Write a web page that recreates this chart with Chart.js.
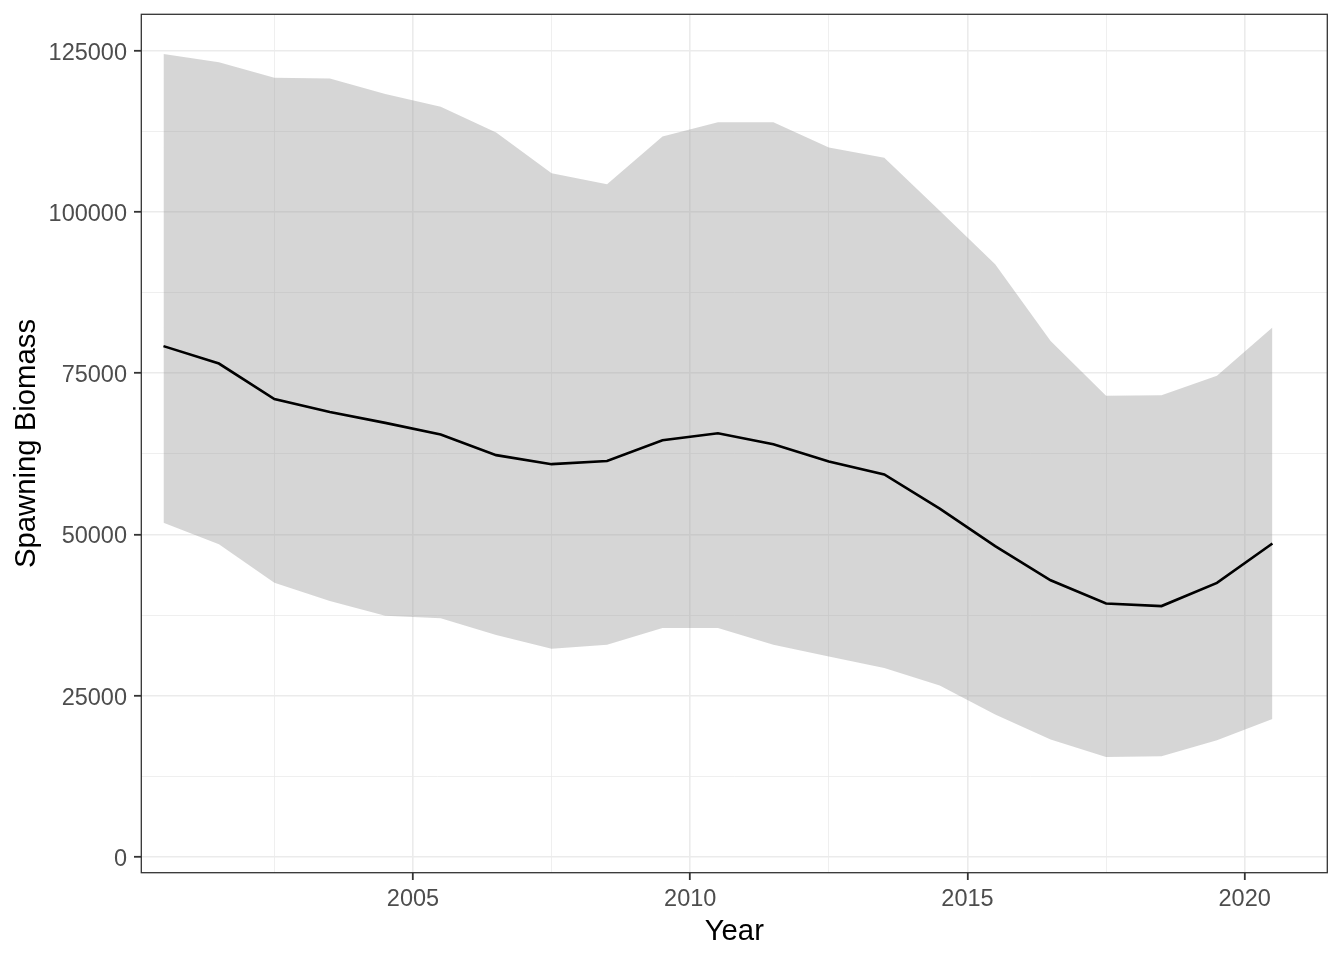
<!DOCTYPE html>
<html>
<head>
<meta charset="utf-8">
<script src="https://cdn.jsdelivr.net/npm/chart.js@4"></script>
<style>
  html, body { margin: 0; padding: 0; background: #fff; }
  #wrap { width: 1344px; height: 960px; }
</style>
</head>
<body>
<div id="wrap"><canvas id="biomassChart" width="1344" height="960"></canvas></div>
<script>
// Data
const years = [2000.5, 2001.5, 2002.5, 2003.5, 2004.5, 2005.5, 2006.5, 2007.5, 2008.5, 2009.5, 2010.5,
               2011.5, 2012.5, 2013.5, 2014.5, 2015.5, 2016.5, 2017.5, 2018.5, 2019.5, 2020.5];
const biomass = [79200, 76500, 71000, 69000, 67300, 65500, 62300, 60900, 61400, 64600, 65700,
                 64000, 61300, 59300, 54000, 48200, 42900, 39300, 38900, 42500, 48600];
const lowerCI = [51800, 48500, 42500, 39700, 37400, 37000, 34400, 32300, 32900, 35500, 35500,
                 32900, 31100, 29300, 26600, 22100, 18200, 15500, 15600, 18100, 21400];
const upperCI = [124500, 123200, 120800, 120700, 118300, 116300, 112300, 106000, 104300, 111700, 113900,
                 113900, 110000, 108400, 100200, 91900, 80000, 71500, 71600, 74600, 82100];

// Axis ticks (major ones get labels, the .5 / 12500 steps are minor grid lines)
const xTicks = [2002.5, 2005, 2007.5, 2010, 2012.5, 2015, 2017.5, 2020];
const yTicks = [0, 12500, 25000, 37500, 50000, 62500, 75000, 87500, 100000, 112500, 125000];

const pts = arr => arr.map((v, i) => ({ x: years[i], y: v }));
const isMajorX = v => v % 5 === 0;
const isMajorY = v => v % 25000 === 0;

const tickFont = { family: "'Liberation Sans', Arial, sans-serif", size: 23.5, lineHeight: 1 };
const titleFont = { family: "'Liberation Sans', Arial, sans-serif", size: 29.3, lineHeight: 1.2 };

// ggplot style panel border on all four sides
const panelBorder = {
  id: "panelBorder",
  afterDatasetsDraw(chart) {
    const { ctx, chartArea: a } = chart;
    ctx.save();
    ctx.strokeStyle = "#333333";
    ctx.lineWidth = 1.3;
    ctx.strokeRect(a.left, a.top, a.right - a.left, a.bottom - a.top);
    ctx.restore();
  }
};

const ctx = document.getElementById("biomassChart").getContext("2d");
new Chart(ctx, {
  type: "line",
  data: {
    datasets: [
      { label: "Spawning Biomass", data: pts(biomass), borderColor: "#000000", borderWidth: 2.6,
        pointRadius: 0, fill: false, tension: 0 },
      { label: "upper", data: pts(upperCI), borderColor: "rgba(0,0,0,0)", borderWidth: 0,
        pointRadius: 0, fill: "+1", backgroundColor: "rgba(153,153,153,0.4)", tension: 0 },
      { label: "lower", data: pts(lowerCI), borderColor: "rgba(0,0,0,0)", borderWidth: 0,
        pointRadius: 0, fill: false, tension: 0 }
    ]
  },
  options: {
    responsive: false,
    animation: false,
    devicePixelRatio: 1,
    layout: { padding: { top: 14.3, right: 16.7, bottom: 0, left: 0 } },
    plugins: { legend: { display: false }, tooltip: { enabled: false } },
    scales: {
      x: {
        type: "linear",
        min: 2000.1,
        max: 2021.49,
        afterBuildTicks: s => { s.ticks = xTicks.map(v => ({ value: v })); },
        afterFit: s => { s.height = 87.3; s.paddingLeft = 0; s.paddingRight = 0; },
        border: { display: false },
        grid: {
          color: "#EBEBEB",
          lineWidth: c => (isMajorX(c.tick.value) ? 1.6 : 0.8),
          tickColor: c => (isMajorX(c.tick.value) ? "#333333" : "rgba(0,0,0,0)"),
          tickWidth: 1.8,
          tickLength: 7.3
        },
        ticks: {
          autoSkip: false,
          maxRotation: 0,
          padding: 7.8,
          color: "#4D4D4D",
          font: tickFont,
          callback: v => (isMajorX(v) ? String(v) : "")
        },
        title: { display: true, text: "Year", color: "#000000", font: titleFont,
                 padding: { top: 0, bottom: 10.7 } }
      },
      y: {
        type: "linear",
        min: -2434,
        max: 130640,
        afterBuildTicks: s => { s.ticks = yTicks.map(v => ({ value: v })); },
        afterFit: s => { s.width = 141.3; s.paddingTop = 0; s.paddingBottom = 0; },
        border: { display: false },
        grid: {
          color: "#EBEBEB",
          lineWidth: c => (isMajorY(c.tick.value) ? 1.6 : 0.8),
          tickColor: c => (isMajorY(c.tick.value) ? "#333333" : "rgba(0,0,0,0)"),
          tickWidth: 1.8,
          tickLength: 7.3
        },
        ticks: {
          autoSkip: false,
          padding: 7,
          labelOffset: 2.5,
          color: "#4D4D4D",
          font: tickFont,
          callback: v => (isMajorY(v) ? String(v) : "")
        },
        title: { display: true, text: "Spawning Biomass", color: "#000000", font: titleFont,
                 padding: { top: 9.4, bottom: 0 } }
      }
    }
  },
  plugins: [panelBorder]
});
</script>
</body>
</html>
